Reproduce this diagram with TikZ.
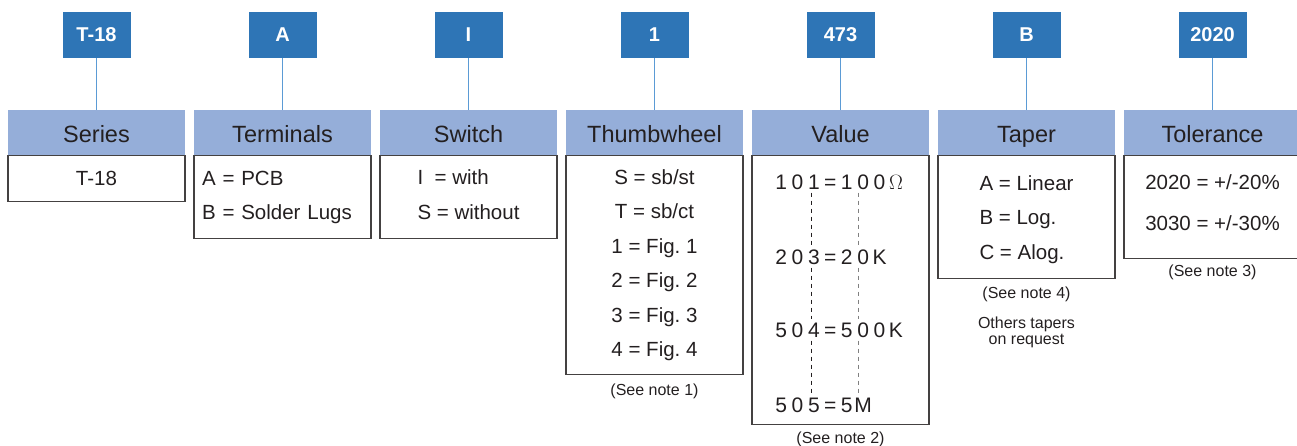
\documentclass[tikz,border=0pt]{standalone}
\usepackage{fontspec}
\setmainfont{Liberation Sans}
\usetikzlibrary{positioning}

\definecolor{codeblue}{HTML}{2E75B6}
\definecolor{headblue}{HTML}{95AED9}
\definecolor{linkblue}{HTML}{5B9BD5}
\definecolor{inkgray}{HTML}{231F20}

\newcommand\vch[1]{\makebox[16.4pt]{#1}}
\frenchspacing

\tikzset{
  codebox/.style={fill=codeblue, text=white, font=\fontsize{20}{24}\selectfont\bfseries,
    minimum width=68pt, minimum height=46pt, inner sep=0pt, text height=14pt, text depth=0pt},
  headbox/.style={fill=headblue, text=inkgray, font=\fontsize{23.5}{28}\selectfont,
    minimum width=177pt, minimum height=45pt, inner sep=0pt, text height=20pt, text depth=0pt},
  bodybox/.style={draw=inkgray!85, line width=1.2pt, minimum width=177pt, anchor=north,
    align=center, text=inkgray, font=\fontsize{20.5}{34.5}\selectfont, inner sep=0pt},
  valrow/.style={anchor=west, inner xsep=0pt, inner ysep=3pt, text=inkgray,
    font=\fontsize{21}{24}\selectfont},
  notetext/.style={text=inkgray, font=\fontsize{16}{16}\selectfont, align=center, inner sep=0pt},
  link/.style={draw=linkblue, line width=1.2pt},
}

\begin{document}
\begin{tikzpicture}[x=1pt, y=-1pt]
  \path[use as bounding box, clip] (0,0) rectangle (1297,446);

  % codes
  \node[codebox] (c1) at (96.5,35)   {T-18};
  \node[codebox] (c2) at (282.5,35)  {A};
  \node[codebox] (c3) at (468.5,35)  {I};
  \node[codebox] (c4) at (654.5,35)  {1};
  \node[codebox] (c5) at (840.5,35)  {473};
  \node[codebox] (c6) at (1026.5,35) {B};
  \node[codebox] (c7) at (1212.5,35) {2020};

  % titres
  \node[headbox] (h1) at (96.5,132.5)   {Series};
  \node[headbox] (h2) at (282.5,132.5)  {Terminals};
  \node[headbox] (h3) at (468.5,132.5)  {Switch};
  \node[headbox] (h4) at (654.5,132.5)  {Thumbwheel};
  \node[headbox] (h5) at (840.5,132.5)  {Value};
  \node[headbox] (h6) at (1026.5,132.5) {Taper};
  \node[headbox] (h7) at (1212.5,132.5) {Tolerance};

  \path[link] (c1) edge (h1);
  \path[link] (c2) edge (h2);
  \path[link] (c3) edge (h3);
  \path[link] (c4) edge (h4);
  \path[link] (c5) edge (h5);
  \path[link] (c6) edge (h6);
  \path[link] (c7) edge (h7);

  % contenus
  \node[bodybox, minimum height=46pt] (b1) at (h1.south) {T-18};
  \node[bodybox, minimum height=83pt, align=left, text width=161pt, inner xsep=8pt] (b2) at (h2.south)
    {A = PCB\\B = Solder Lugs};
  \node[bodybox, minimum height=83pt, align=left] (b3) at (h3.south)
    {I \ = with\\S = without\rule[-5pt]{0pt}{0pt}};
  \node[bodybox, minimum height=219pt] (b4) at (h4.south)
    {S = sb/st\\T = sb/ct\\1 = Fig. 1\\2 = Fig. 2\\3 = Fig. 3\\4 = Fig. 4};
  \node[bodybox, minimum height=269pt] (b5) at (h5.south) {};
  \node[bodybox, minimum height=123pt, align=left] (b6) at (h6.south)
    {\rule{0pt}{19pt}A = Linear\\B = Log.\\C = Alog.};
  \node[bodybox, minimum height=103pt, font=\fontsize{20.5}{41}\selectfont] (b7) at (h7.south)
    {2020 = +/-20\%\\3030 = +/-30\%\rule[-10pt]{0pt}{0pt}};

  % codes de valeur
  \node[valrow] (v1) at (772.75,182) {\vch1\vch0\vch1\vch=\vch1\vch0\vch0\vch{$\Omega$}};
  \node[valrow] (v2) at (772.75,257) {\vch2\vch0\vch3\vch=\vch2\vch0\vch K};
  \node[valrow] (v3) at (772.75,330) {\vch5\vch0\vch4\vch=\vch5\vch0\vch0\vch K};
  \node[valrow] (v4) at (772.75,405) {\vch5\vch0\vch5\vch=\vch5\vch M};
  \coordinate (colA) at (811,182);
  \coordinate (colB) at (858,182);

  \draw[inkgray, line width=0.9pt, dash pattern=on 4pt off 4pt] (v1.south -| colA) -- (v2.north -| colA);
  \draw[inkgray, line width=0.9pt, dash pattern=on 4pt off 4pt] (v2.south -| colA) -- (v3.north -| colA);
  \draw[inkgray, line width=0.9pt, dash pattern=on 4pt off 4pt] (v3.south -| colA) -- (v4.north -| colA);
  \draw[gray, line width=0.9pt, dash pattern=on 4pt off 4pt] (v1.south -| colB) -- (v2.north -| colB);
  \draw[gray, line width=0.9pt, dash pattern=on 4pt off 4pt] (v2.south -| colB) -- (v3.north -| colB);
  \draw[gray, line width=0.9pt, dash pattern=on 4pt off 4pt] (v3.south -| colB) -- (v4.north -| colB);

  % notes
  \node[notetext, below=8pt of b4] (n1) {(See note 1)};
  \node[notetext, below=6pt of b5] (n2) {(See note 2)};
  \node[notetext, below=5pt of b7] (n3) {(See note 3)};
  \node[notetext, below=7pt of b6] (n4) {(See note 4)};
  \node[notetext, below=15pt of n4] (n5) {Others tapers\\on request};
\end{tikzpicture}
\end{document}
